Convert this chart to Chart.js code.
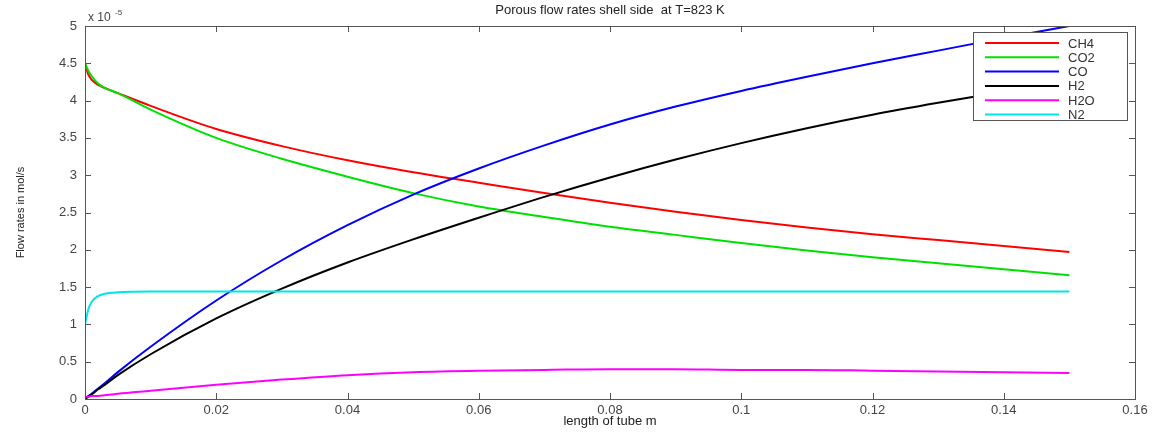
<!DOCTYPE html>
<html>
<head>
<meta charset="utf-8">
<script src="https://cdn.jsdelivr.net/npm/chart.js@4/dist/chart.umd.min.js"></script>
<style>
  html, body { margin: 0; padding: 0; background: #fff; }
  #wrap { width: 1163px; height: 437px; }
</style>
</head>
<body>
<div id="wrap"><canvas id="myChart" width="1163" height="437"></canvas></div>
<script>
// tube length positions (m)
const xs = [0, 0.0005, 0.001, 0.002, 0.003, 0.005, 0.01, 0.02, 0.03, 0.04, 0.05,
            0.06, 0.07, 0.08, 0.09, 0.1, 0.11, 0.12, 0.13, 0.14, 0.15];

// flow rates, in units of 1e-5 mol/s
const ch4 = [4.5, 4.35, 4.28, 4.21, 4.17, 4.10, 3.93, 3.62, 3.39, 3.20, 3.04,
             2.90, 2.76, 2.63, 2.51, 2.40, 2.30, 2.21, 2.13, 2.05, 1.97];
const co2 = [4.5, 4.40, 4.33, 4.23, 4.17, 4.10, 3.88, 3.50, 3.22, 2.98, 2.76,
             2.58, 2.44, 2.31, 2.20, 2.09, 1.99, 1.90, 1.82, 1.74, 1.66];
const co  = [0, 0.04, 0.07, 0.14, 0.21, 0.36, 0.70, 1.32, 1.86, 2.33, 2.74,
             3.09, 3.40, 3.68, 3.92, 4.13, 4.32, 4.50, 4.67, 4.84, 5.0];
const h2  = [0, 0.03, 0.06, 0.13, 0.19, 0.32, 0.60, 1.08, 1.48, 1.83, 2.14,
             2.43, 2.71, 2.97, 3.21, 3.43, 3.63, 3.81, 3.97, 4.12, 4.26];
const h2o = [0.03, 0.03, 0.04, 0.04, 0.05, 0.07, 0.11, 0.19, 0.26, 0.32, 0.36,
             0.38, 0.39, 0.40, 0.40, 0.39, 0.39, 0.38, 0.37, 0.36, 0.35];
const n2  = [1.0, 1.2, 1.3, 1.38, 1.41, 1.43, 1.44, 1.44, 1.44, 1.44, 1.44,
             1.44, 1.44, 1.44, 1.44, 1.44, 1.44, 1.44, 1.44, 1.44, 1.44];

const seriesNames = ['CH4', 'CO2', 'CO', 'H2', 'H2O', 'N2'];
const seriesValues = [ch4, co2, co, h2, h2o, n2];
const seriesColors = ['#ff0000', '#00e000', '#0000ff', '#000000', '#ff00ff', '#00e5e5'];

const titleText = 'Porous flow rates shell side  at T=823 K';
const xTitle = 'length of tube m';
const yTitle = 'Flow rates in mol/s';

const fontFam = '"Liberation Sans", Arial, sans-serif';

// box, inward ticks, title, exponent and legend in matlab style
const matlabStyle = {
    id: 'matlabStyle',
    afterDraw(chart) {
        const c = chart.ctx;
        const a = chart.chartArea;
        const xS = chart.scales.x;
        const yS = chart.scales.y;
        c.save();
        c.strokeStyle = '#555';
        c.lineWidth = 1;
        c.strokeRect(a.left + 0.5, a.top + 0.5, a.right - a.left, a.bottom - a.top);
        c.beginPath();
        xS.ticks.forEach(t => {
            const px = Math.round(xS.getPixelForValue(t.value)) + 0.5;
            c.moveTo(px, a.bottom); c.lineTo(px, a.bottom - 6);
            c.moveTo(px, a.top); c.lineTo(px, a.top + 6);
        });
        yS.ticks.forEach(t => {
            const py = Math.round(yS.getPixelForValue(t.value)) + 0.5;
            c.moveTo(a.left, py); c.lineTo(a.left + 6, py);
            c.moveTo(a.right, py); c.lineTo(a.right - 6, py);
        });
        c.stroke();

        // title
        c.fillStyle = '#222';
        c.font = '13px ' + fontFam;
        c.textAlign = 'center';
        c.textBaseline = 'middle';
        c.fillText(titleText, (a.left + a.right) / 2, 10);

        // exponent
        c.textAlign = 'left';
        c.fillStyle = '#444';
        c.font = '12px ' + fontFam;
        c.fillText('x 10', a.left + 3, 18);
        c.font = '8px ' + fontFam;
        c.fillText('-5', a.left + 30, 13);

        // legend
        const lx = 973, ly = 32, lw = 154, lh = 88;
        c.fillStyle = '#fff';
        c.fillRect(lx, ly, lw, lh);
        c.strokeStyle = '#555';
        c.strokeRect(lx + 0.5, ly + 0.5, lw, lh);
        c.font = '13px ' + fontFam;
        chart.data.datasets.forEach((ds, i) => {
            const yy = ly + 11 + i * 14.3;
            c.strokeStyle = ds.borderColor;
            c.lineWidth = 2;
            c.beginPath();
            c.moveTo(lx + 12, yy); c.lineTo(lx + 86, yy);
            c.stroke();
            c.fillStyle = '#333';
            c.fillText(ds.label, lx + 95, yy + 1);
        });
        c.restore();
    }
};

const ctx = document.getElementById('myChart').getContext('2d');
const chart = new Chart(ctx, {
    type: 'line',
    data: {
        datasets: seriesNames.map((name, i) => ({
            label: name,
            data: xs.map((x, j) => ({ x: x, y: seriesValues[i][j] })),
            borderColor: seriesColors[i],
            backgroundColor: seriesColors[i],
            borderWidth: 2,
            pointRadius: 0,
            cubicInterpolationMode: 'monotone',
            order: 6 - i
        }))
    },
    options: {
        animation: false,
        responsive: false,
        layout: { padding: { left: 0, right: 28, top: 26, bottom: 0 } },
        plugins: {
            legend: { display: false },
            tooltip: { enabled: false }
        },
        scales: {
            x: {
                type: 'linear',
                min: 0,
                max: 0.16,
                grid: { display: false, drawTicks: false },
                border: { display: false },
                ticks: {
                    stepSize: 0.02,
                    color: '#444',
                    font: { family: fontFam, size: 13 },
                    padding: 4,
                    maxRotation: 0,
                    callback: v => String(Math.round(v * 100) / 100)
                },
                title: {
                    display: true,
                    text: xTitle,
                    color: '#222',
                    font: { family: fontFam, size: 13 },
                    padding: { top: 0, bottom: 8 }
                },
                afterFit: s => { s.height = 38; }
            },
            y: {
                min: 0,
                max: 5,
                grid: { display: false, drawTicks: false },
                border: { display: false },
                ticks: {
                    stepSize: 0.5,
                    color: '#444',
                    font: { family: fontFam, size: 13 },
                    padding: 8,
                    callback: v => String(Math.round(v * 10) / 10)
                },
                title: {
                    display: true,
                    text: yTitle,
                    color: '#222',
                    font: { family: fontFam, size: 11 },
                    padding: { top: 14, bottom: 0 }
                },
                afterFit: s => { s.width = 85; }
            }
        }
    },
    plugins: [matlabStyle]
});
</script>
</body>
</html>
